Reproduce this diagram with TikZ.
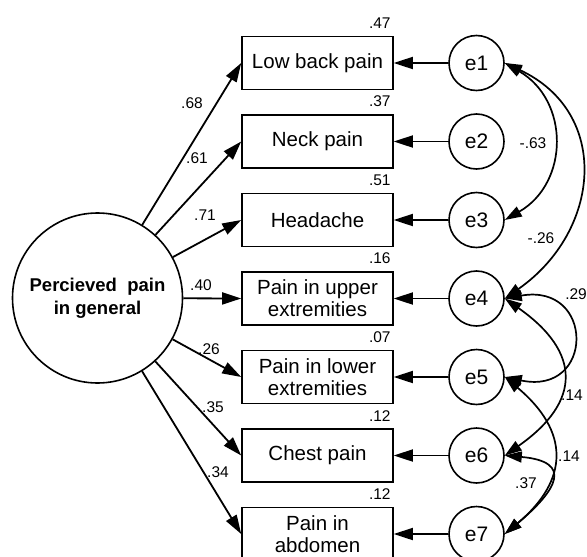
\documentclass[tikz,border=0pt]{standalone}
\usepackage{fontspec}
\setmainfont{Liberation Sans}
\usetikzlibrary{arrows.meta}
\tikzset{
  box/.style={draw, line width=1.6pt, minimum width=151pt, minimum height=53pt, inner sep=1pt, align=center, font=\fontsize{20.5}{22}\selectfont},
  err/.style={draw, circle, line width=1.6pt, minimum size=55pt, inner sep=0pt, font=\fontsize{21}{22}\selectfont},
  latent/.style={draw, circle, line width=1.6pt, minimum size=170pt, inner sep=0pt, align=center, font=\fontsize{18.5}{23}\selectfont\bfseries},
  arr/.style={line width=1.8pt, -{Triangle[length=19pt,width=12pt]}},
  cov/.style={line width=1.7pt, {Triangle[length=17pt,width=11pt]}-{Triangle[length=17pt,width=11pt]}},
  lab/.style={inner sep=0pt, font=\fontsize{15.5}{17}\selectfont},
}
\begin{document}
\begin{tikzpicture}[x=1pt,y=1pt]
\useasboundingbox (0,0) rectangle (587,-557);
\clip (0,0) rectangle (587,-557);
\node[latent] (F) at (97.5,-298) {Percieved\ \ pain\\in general};
\node[box] (b1) at (317.5,-63) {Low back pain};
\node[box] (b2) at (317.5,-141.5) {Neck pain};
\node[box] (b3) at (317.5,-220) {Headache};
\node[box] (b4) at (317.5,-298.5) {Pain in upper\\extremities};
\node[box] (b5) at (317.5,-377) {Pain in lower\\extremities};
\node[box] (b6) at (317.5,-455.5) {Chest pain};
\node[box] (b7) at (317.5,-534) {Pain in\\abdomen};
\foreach \i/\y in {1/-63,2/-141.5,3/-220,4/-298.5,5/-377,6/-455.5,7/-534}{
  \node[err] (e\i) at (476.5,\y) {e\i};
}
\foreach \i in {1,...,7}{
  \draw[arr] (e\i) -- (b\i);
  \draw[arr] (F) -- (b\i.west);
}
% R squared
\foreach \i/\v in {1/.47,2/.37,3/.51,4/.16,5/.07,6/.12,7/.12}{
  \node[lab, anchor=south east] (r\i) at ([xshift=-3pt,yshift=7pt]b\i.north east) {\v};
}
% loadings
\node[lab] (l1) at (192,-103) {.68};
\node[lab] (l2) at (197,-158) {.61};
\node[lab] (l3) at (205,-215) {.71};
\node[lab] (l4) at (201,-285) {.40};
\node[lab] (l5) at (209,-349) {.26};
\node[lab] (l6) at (213,-407) {.35};
\node[lab] (l7) at (218,-472) {.34};
% covariances
\draw[cov] (e1.east) to[out=-30,in=30,looseness=1.22] (e3.east);
\draw[cov] (e1.east) to[out=-25,in=35,looseness=1.28] (e4.east);
\draw[cov] (e4.east) to[out=10,in=-12,looseness=3.0] (e5.east);
\draw[cov] (e4.east) to[out=-35,in=35,looseness=1.53] (e6.east);
\draw[cov] (e5.east) to[out=-40,in=40,looseness=1.38] (e7.east);
\draw[cov] (e6.east) to[out=-5,in=40,looseness=2.25] (e7.east);
\node[lab] (c13) at (533,-143) {-.63};
\node[lab] (c14) at (541,-238) {-.26};
\node[lab, anchor=east] (c45) at (587,-294) {.29};
\node[lab] (c46) at (572,-395) {.14};
\node[lab] (c57) at (569,-456) {.14};
\node[lab] (c67) at (526,-483) {.37};
\end{tikzpicture}
\end{document}
